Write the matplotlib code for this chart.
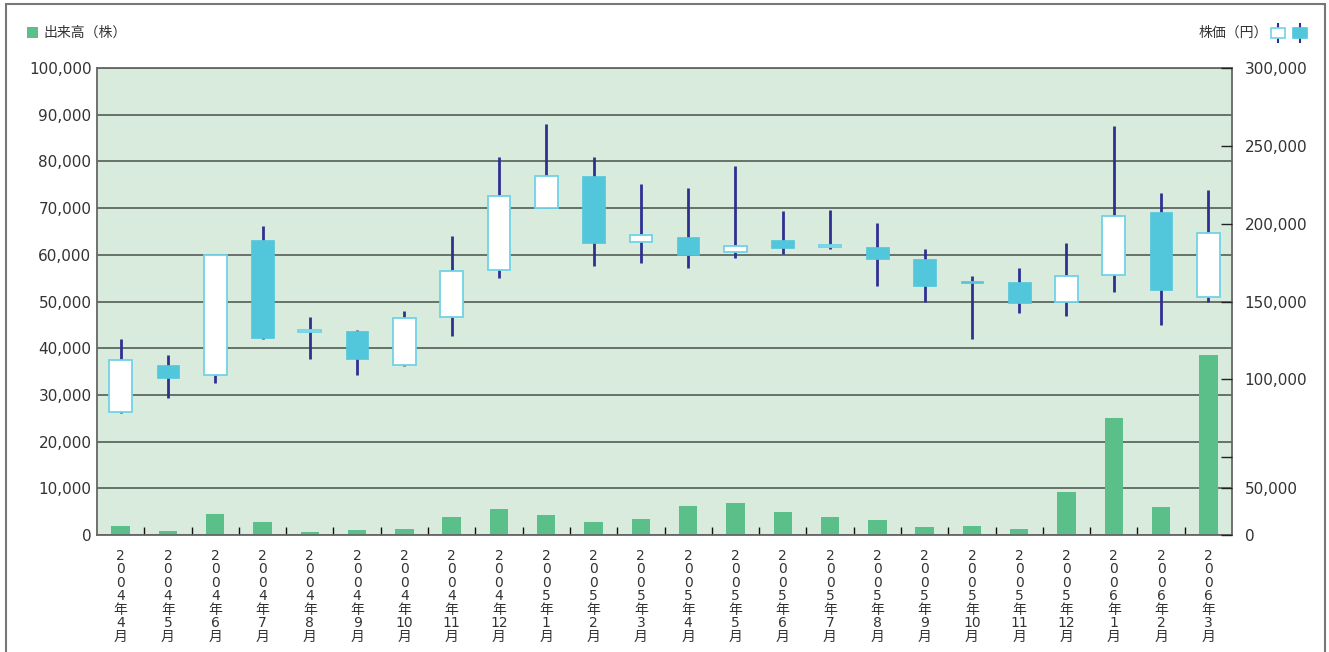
import numpy as np
import matplotlib
matplotlib.use("Agg")
import matplotlib.pyplot as plt
from matplotlib.patches import Rectangle

plt.rcParams['font.family'] = ['DejaVu Sans', 'Noto Sans CJK JP']

# 月 (2004年4月 ～ 2006年3月)
years = [2004]*9 + [2005]*12 + [2006]*3
months = [4, 5, 6, 7, 8, 9, 10, 11, 12, 1, 2, 3, 4, 5, 6, 7, 8, 9, 10, 11, 12, 1, 2, 3]

# 株価 (円)
priceOpen = [79000, 109400, 103000, 189800, 130500, 130800, 109200, 140200, 170100, 210100, 230700, 188300,
             191700, 181900, 189800, 184800, 184700, 177600, 162900, 162700, 149800, 167200, 207800, 153000]
priceHigh = [126100, 115600, 179600, 198800, 139800, 131900, 144000, 192000, 242600, 263800, 242600, 225800,
             223000, 236900, 208000, 209100, 200700, 183800, 166700, 171600, 187700, 263000, 219800, 221700]
priceLow = [78600, 88000, 97900, 125700, 112800, 102800, 108600, 127800, 165000, 210000, 173100, 174800,
            171800, 177800, 180800, 183900, 159900, 149800, 126100, 142800, 140900, 155800, 134900, 149800]
priceClose = [112600, 100900, 179600, 126300, 132000, 112800, 139600, 169700, 217600, 230700, 187500, 192600,
              179800, 185800, 184300, 186300, 177000, 159900, 161700, 149000, 166700, 204800, 157700, 193700]

# 出来高 (株)
volume = [1830, 770, 4580, 2680, 560, 990, 1200, 3940, 5630, 4370, 2890, 3520,
          6270, 6900, 5000, 3940, 3310, 1620, 1830, 1200, 9230, 25070, 6060, 38600]

# 右軸の目盛 (元の図の通り、50,000 のラベルは 10,000 株の線の高さにある)
rightTicks = [0, 30000, 50000, 100000, 150000, 200000, 250000, 300000]
rightLabels = ['0', '50,000', '', '100,000', '150,000', '200,000', '250,000', '300,000']

bgColor = '#d8ebdd'
volColor = '#5bbf8a'
upEdge = '#6fd3e6'
downColor = '#52c6da'
wickColor = '#2e3192'
textColor = '#333333'


def monthLabel(y, m):
     chars = list(str(y)) + ['年', str(m), '月']
     return '\n'.join(chars)


fig = plt.figure(figsize=(13.29, 6.52), dpi=100)
ax = fig.add_axes([97/1329, 117/652, 1135/1329, 467/652])
ax2 = ax.twinx()

x = np.arange(len(months))

# 出来高
ax.set_facecolor(bgColor)
ax.bar(x, volume, width=0.39, color=volColor, zorder=2)
ax.set_xlim(-0.5, len(months) - 0.5)
ax.set_ylim(0, 100000)
ax.set_yticks(np.arange(0, 100001, 10000))
ax.set_yticklabels(['{:,}'.format(v) for v in range(0, 100001, 10000)])
ax.yaxis.grid(True, color='#46504a', linewidth=1.1, zorder=1)
ax.set_axisbelow(True)
ax.tick_params(axis='y', length=0, pad=4, labelsize=11, labelcolor=textColor)

ax.set_xticks(x)
ax.set_xticklabels([monthLabel(y, m) for y, m in zip(years, months)],
                   fontsize=10, linespacing=0.95, color=textColor, va='top')
ax.tick_params(axis='x', which='major', length=0, pad=10)
ax.set_xticks(x[:-1] + 0.5, minor=True)
ax.tick_params(axis='x', which='minor', direction='in', length=6, width=1, color='#111111')

for sp in ax.spines.values():
     sp.set_color('#666666')
     sp.set_linewidth(1.3)

# 株価 (ローソク足)
for i in range(len(months)):
     o, h, l, c = priceOpen[i], priceHigh[i], priceLow[i], priceClose[i]
     ax2.vlines(x[i], l, h, color=wickColor, linewidth=2, zorder=2)
     lo, hi = min(o, c), max(o, c)
     if c >= o:
          ax2.add_patch(Rectangle((x[i] - 0.24, lo), 0.48, max(hi - lo, 800),
                                  facecolor='white', edgecolor=upEdge, linewidth=1.3, zorder=3))
     else:
          ax2.add_patch(Rectangle((x[i] - 0.24, lo), 0.48, max(hi - lo, 800),
                                  facecolor=downColor, edgecolor=downColor, linewidth=0.5, zorder=3))

ax2.set_ylim(0, 300000)
ax2.set_yticks(rightTicks)
ax2.set_yticklabels(rightLabels)
ax2.tick_params(axis='y', direction='in', length=8, width=1, color='#222222',
                pad=9, labelsize=11, labelcolor=textColor)
for sp in ax2.spines.values():
     sp.set_visible(False)

# 凡例
fig.patches.append(Rectangle((27/1329, 1 - 38/652), 11/1329, 11/652, transform=fig.transFigure,
                             facecolor=volColor, edgecolor='none'))
fig.text(43/1329, 1 - 33/652, '出来高（株）', fontsize=10, color=textColor, va='center', ha='left',
         family=['Noto Sans CJK JP'])
fig.text(1268/1329, 1 - 33/652, '株価（円）', fontsize=10, color=textColor, va='center', ha='right',
         family=['Noto Sans CJK JP'])
for k, fc in enumerate(['white', downColor]):
     cx = (1278 + k*22)/1329
     fig.lines.append(plt.Line2D([cx, cx], [1 - 24/652, 1 - 42/652], transform=fig.transFigure,
                                 color=wickColor, linewidth=1.5, zorder=1))
     fig.patches.append(Rectangle((cx - 7/1329, 1 - 38/652), 14/1329, 10/652, transform=fig.transFigure,
                                  facecolor=fc, edgecolor=upEdge if fc == 'white' else fc,
                                  linewidth=1.2, zorder=5))

# 外枠
fig.patches.append(Rectangle((6/1329, -0.05), 1319/1329, 1.05 - 4/652, transform=fig.transFigure,
                             facecolor='none', edgecolor='#777777', linewidth=1.5))

fig.savefig('out.png', dpi=100)
